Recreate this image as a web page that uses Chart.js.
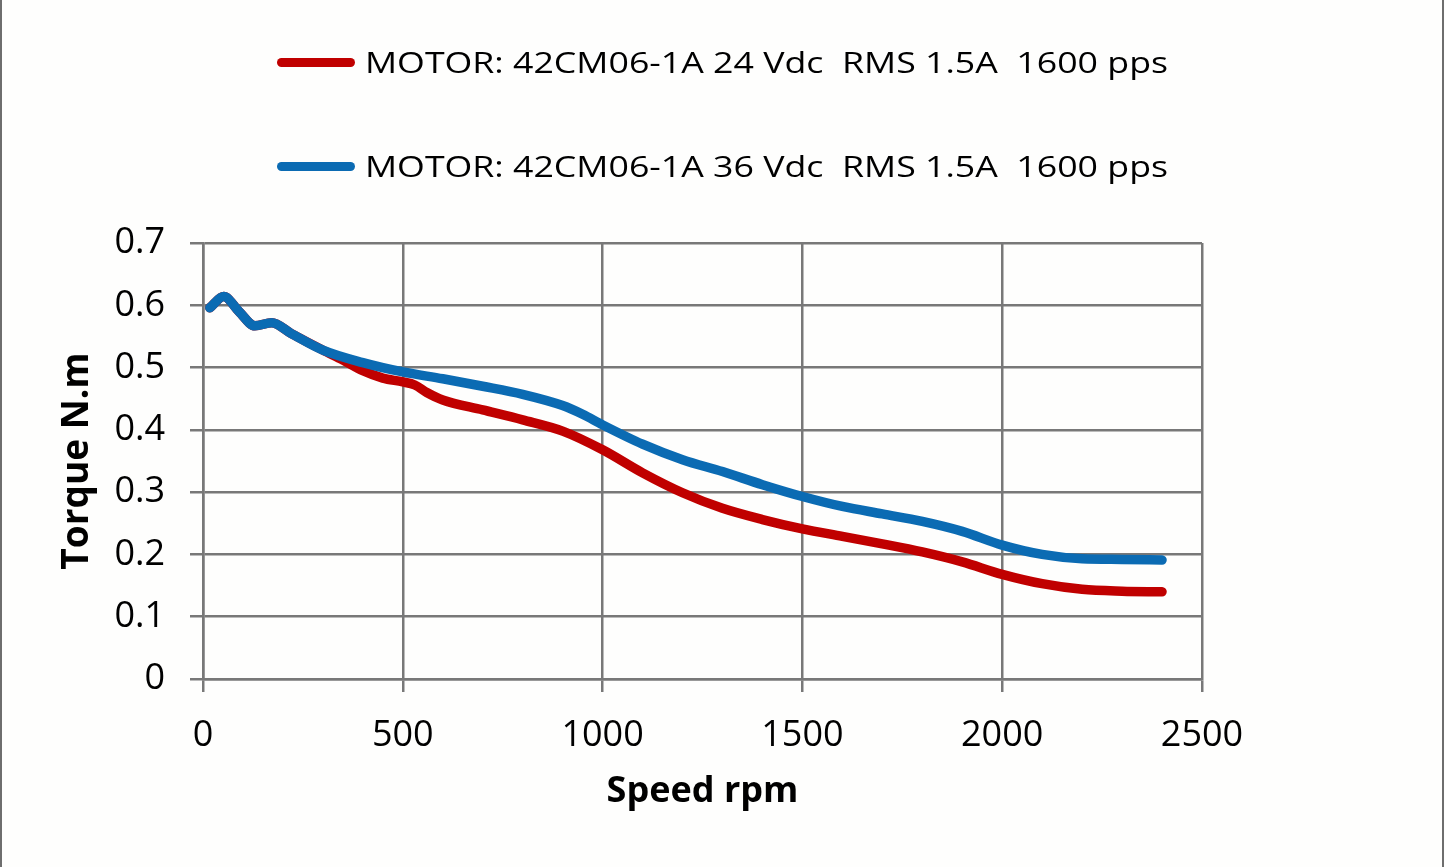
<!DOCTYPE html>
<html>
<head>
<meta charset="utf-8">
<script src="https://cdn.jsdelivr.net/npm/chart.js@4.4.1/dist/chart.umd.min.js"></script>
<style>
  html, body { margin: 0; padding: 0; background: #ffffff; }
  #wrap { position: relative; width: 1445px; height: 867px; overflow: hidden; background: #fefefd; }
  canvas { position: absolute; left: 0; top: 0; }
  .frame { position: absolute; top: 0; width: 2px; height: 867px; background: #6e6e6e; }
  .legline { position: absolute; left: 277px; width: 78px; height: 9px; border-radius: 5px; }
  .legtext { position: absolute; left: 365px; font-family: "Open Sans", sans-serif; font-size: 30px; color: #000; white-space: pre; transform-origin: 0 50%; line-height: 40px; }
</style>
</head>
<body>
<div id="wrap">
  <canvas id="c" width="1445" height="867"></canvas>
  <div class="frame" style="left:0px"></div>
  <div class="frame" style="left:1442px"></div>
  <div id="legend"></div>
</div>
<script>
// ---- data ----
const seriesNames = [
  "MOTOR: 42CM06-1A 24 Vdc  RMS 1.5A  1600 pps",
  "MOTOR: 42CM06-1A 36 Vdc  RMS 1.5A  1600 pps"
];
const seriesColors = ["#c00000", "#0b6bb3"];

const speed24 = [17, 52, 90, 130, 172, 220, 300, 350, 400, 450, 500, 530, 560, 600, 700, 800, 900, 1000, 1100, 1200, 1300, 1400, 1500, 1600, 1700, 1800, 1900, 2000, 2100, 2200, 2300, 2400];
const torque24 = [0.596, 0.614, 0.590, 0.567, 0.572, 0.555, 0.528, 0.512, 0.495, 0.483, 0.477, 0.472, 0.460, 0.448, 0.432, 0.416, 0.398, 0.368, 0.331, 0.299, 0.274, 0.256, 0.241, 0.229, 0.217, 0.204, 0.188, 0.168, 0.153, 0.144, 0.141, 0.140];

const speed36 = [17, 52, 90, 130, 172, 220, 300, 400, 500, 600, 700, 800, 900, 950, 1000, 1100, 1200, 1300, 1400, 1500, 1600, 1700, 1800, 1900, 2000, 2100, 2200, 2300, 2400];
const torque36 = [0.596, 0.614, 0.590, 0.567, 0.572, 0.555, 0.528, 0.508, 0.493, 0.482, 0.470, 0.457, 0.439, 0.425, 0.408, 0.377, 0.352, 0.333, 0.312, 0.293, 0.277, 0.265, 0.253, 0.237, 0.215, 0.200, 0.193, 0.192, 0.191];

const xTickLabels = ["0", "500", "1000", "1500", "2000", "2500"];
const yTickLabels = ["0", "0.1", "0.2", "0.3", "0.4", "0.5", "0.6", "0.7"];
const xTitle = "Speed rpm";
const yTitle = "Torque N.m";

// ---- legend (HTML) ----
const legendTops = [62, 166];
const legendEl = document.getElementById('legend');
const targetTextWidth = 803;
seriesNames.forEach((name, i) => {
  const line = document.createElement('div');
  line.className = 'legline';
  line.style.top = (legendTops[i] - 4.5) + 'px';
  line.style.background = seriesColors[i];
  legendEl.appendChild(line);
  const t = document.createElement('div');
  t.className = 'legtext';
  t.textContent = name;
  t.style.top = (legendTops[i] - 20) + 'px';
  legendEl.appendChild(t);
  const w = t.getBoundingClientRect().width;
  t.style.transform = 'scaleX(' + (targetTextWidth / w) + ')';
});

// ---- chart ----
const gridColor = '#787878';
const toXY = (xs, ys) => xs.map((x, i) => ({ x: x, y: ys[i] }));

new Chart(document.getElementById('c'), {
  type: 'line',
  data: {
    datasets: [
      {
        label: seriesNames[0],
        data: toXY(speed24, torque24),
        borderColor: seriesColors[0],
        borderWidth: 9.5,
        borderCapStyle: 'round',
        borderJoinStyle: 'round',
        pointRadius: 0,
        cubicInterpolationMode: 'monotone',
        fill: false,
        order: 2
      },
      {
        label: seriesNames[1],
        data: toXY(speed36, torque36),
        borderColor: seriesColors[1],
        borderWidth: 9.5,
        borderCapStyle: 'round',
        borderJoinStyle: 'round',
        pointRadius: 0,
        cubicInterpolationMode: 'monotone',
        fill: false,
        order: 1
      }
    ]
  },
  options: {
    responsive: false,
    animation: false,
    devicePixelRatio: 1,
    layout: { padding: { top: 243, right: 243, bottom: 0, left: 0 } },
    plugins: { legend: { display: false }, tooltip: { enabled: false }, title: { display: false } },
    scales: {
      x: {
        type: 'linear',
        min: 0, max: 2500,
        afterFit: (s) => { s.height = 188; },
        afterBuildTicks: (s) => { s.ticks = xTickLabels.map(v => ({ value: Number(v) })); },
        ticks: {
          color: '#000',
          padding: 22,
          maxRotation: 0,
          font: { family: 'Open Sans', size: 36 },
          callback: (v, i) => xTickLabels[i]
        },
        grid: { color: gridColor, lineWidth: 2.5, tickLength: 13, drawTicks: true },
        border: { color: gridColor, width: 2.5 },
        title: {
          display: true, text: xTitle, color: '#000',
          font: { family: 'Open Sans', size: 36, weight: 'bold' },
          padding: { top: 0, bottom: 54 }
        }
      },
      y: {
        min: 0, max: 0.7,
        afterFit: (s) => { s.width = 203; },
        afterBuildTicks: (s) => { s.ticks = yTickLabels.map(v => ({ value: Number(v) })); },
        ticks: {
          color: '#000',
          padding: 25,
          font: { family: 'Open Sans', size: 36 },
          callback: (v, i) => yTickLabels[i]
        },
        grid: { color: gridColor, lineWidth: 2.5, tickLength: 13, drawTicks: true },
        border: { color: gridColor, width: 2.5 },
        title: {
          display: true, text: yTitle, color: '#000',
          font: { family: 'Open Sans', size: 37, weight: 'bold' },
          padding: { top: 55, bottom: 0 }
        }
      }
    }
  }
});
</script>
</body>
</html>
